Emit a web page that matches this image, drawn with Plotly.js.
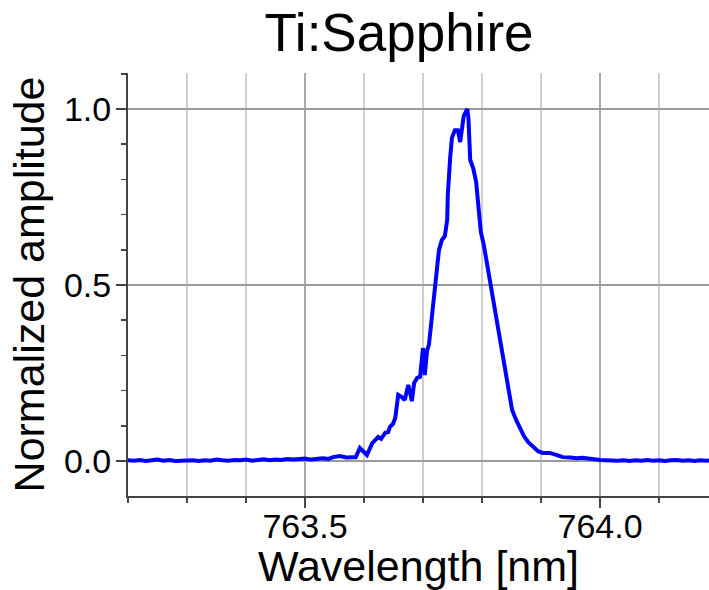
<!DOCTYPE html>
<html>
<head>
<meta charset="utf-8">
<script src="https://cdn.plot.ly/plotly-3.0.1.min.js"></script>
<style>html,body{margin:0;padding:0;background:#fff;}#chart{width:709px;height:590px;}</style>
</head>
<body>
<div id="chart"></div>
<script>
// Wavelength samples [nm]
const wavelength = [
  763.20,763.21,763.22,763.23,763.24,763.25,763.26,763.27,763.28,763.29,
  763.30,763.31,763.32,763.33,763.34,763.35,763.36,763.37,763.38,763.39,
  763.40,763.41,763.42,763.43,763.44,763.45,763.46,763.47,763.48,763.49,
  763.50,763.51,763.52,763.53,763.54,
  763.5475,763.559,763.570,763.581,763.586,763.593,763.600,763.605,763.614,763.619,
  763.624,763.629,763.636,763.641,763.644,763.649,763.653,763.658,763.664,763.669,
  763.675,763.678,763.681,763.685,763.690,763.695,763.700,763.703,763.707,763.710,
  763.715,763.720,763.724,763.727,763.732,763.737,763.741,763.742,763.746,763.749,
  763.754,763.759,763.763,763.766,763.769,763.775,763.777,763.780,763.785,763.790,
  763.793,763.798,763.803,763.808,763.814,763.819,763.825,763.831,763.836,763.841,
  763.846,763.851,763.858,763.864,763.871,763.878,763.886,763.895,763.903,763.915,
  763.927,763.937,
  763.95,763.96,763.97,763.98,763.99,764.00,764.01,764.02,764.03,764.04,
  764.05,764.06,764.07,764.08,764.09,764.10,764.11,764.12,764.13,764.14,
  764.15,764.16,764.17,764.18,764.19
];
// Normalized amplitude
const amplitude = [
  0.002,0.001,0.003,0.000,0.002,0.004,0.001,0.003,0.000,0.001,
  0.003,0.002,0.000,0.002,0.001,0.004,0.002,0.001,0.003,0.002,
  0.004,0.001,0.003,0.005,0.002,0.004,0.003,0.006,0.004,0.005,
  0.007,0.004,0.006,0.008,0.006,
  0.011,0.014,0.010,0.011,0.011,0.037,0.026,0.017,0.051,0.060,
  0.068,0.063,0.080,0.082,0.097,0.105,0.122,0.188,0.182,0.173,
  0.216,0.196,0.170,0.222,0.236,0.239,0.321,0.244,0.315,0.330,
  0.409,0.477,0.526,0.599,0.628,0.639,0.685,0.756,0.861,0.918,
  0.940,0.940,0.906,0.946,0.980,1.000,0.974,0.855,0.832,0.793,
  0.741,0.651,0.614,0.565,0.506,0.452,0.401,0.327,0.281,0.230,
  0.179,0.145,0.116,0.094,0.071,0.054,0.040,0.028,0.023,0.023,
  0.017,0.011,
  0.010,0.008,0.009,0.006,0.005,0.003,0.002,0.003,0.001,0.002,
  0.000,0.002,0.001,0.003,0.001,0.002,0.000,0.002,0.003,0.001,
  0.002,0.000,0.002,0.001,0.002
];
const chartTitle = "Ti:Sapphire";
const xTitle = "Wavelength [nm]";
const yTitle = "Normalized amplitude";
const xTickVals = [763.5, 764.0];
const xTickText = ["763.5", "764.0"];
const yTickVals = [0.0, 0.5, 1.0];
const yTickText = ["0.0", "0.5", "1.0"];

const FONT = "Arial, 'Liberation Sans', sans-serif";
const AX = "#444444";

const trace = {
  x: wavelength, y: amplitude, type: "scatter", mode: "lines",
  line: {color: "#0000ff", width: 4}, hoverinfo: "skip"
};

const layout = {
  width: 709, height: 590,
  margin: {l: 128, r: 0, t: 73, b: 94, pad: 0},
  paper_bgcolor: "#ffffff", plot_bgcolor: "#ffffff",
  showlegend: false,
  font: {family: FONT, color: "#000000"},
  title: {
    text: chartTitle, font: {family: FONT, size: 53, color: "#000000"},
    x: 399/709, xanchor: "center", xref: "container",
    y: (590-51)/590, yanchor: "bottom", yref: "container"
  },
  xaxis: {
    range: [763.2, 764.1847], autorange: false,
    tickmode: "array", tickvals: xTickVals, ticktext: xTickText,
    ticks: "outside", ticklen: 10, tickwidth: 1.5, tickcolor: AX,
    tickfont: {family: FONT, size: 34, color: "#000000"},
    ticklabelstandoff: -11,
    showline: true, linecolor: AX, linewidth: 2, mirror: false,
    showgrid: true, gridcolor: "#a8a8a8", gridwidth: 1.5,
    zeroline: false,
    minor: {dtick: 0.1, tick0: 763.2, ticks: "outside", ticklen: 5, tickwidth: 1.5, tickcolor: AX,
            showgrid: true, gridcolor: "#cfcfcf", gridwidth: 1.5},
    title: {text: xTitle, font: {family: FONT, size: 43, color: "#000000"}, standoff: 13}
  },
  yaxis: {
    range: [-0.0994, 1.1023], autorange: false,
    tickmode: "array", tickvals: yTickVals, ticktext: yTickText,
    ticks: "outside", ticklen: 10, tickwidth: 1.5, tickcolor: AX,
    tickfont: {family: FONT, size: 34, color: "#000000"},
    ticklabelstandoff: -2,
    showline: true, linecolor: AX, linewidth: 2, mirror: false,
    showgrid: true, gridcolor: "#9a9a9a", gridwidth: 1.5,
    zeroline: false,
    minor: {dtick: 0.1, tick0: 0, ticks: "outside", ticklen: 5, tickwidth: 1.5, tickcolor: AX, showgrid: false},
    title: {text: yTitle, font: {family: FONT, size: 43, color: "#000000"}, standoff: 6}
  }
};

Plotly.newPlot("chart", [trace], layout, {displayModeBar: false, staticPlot: true});
</script>
</body>
</html>
